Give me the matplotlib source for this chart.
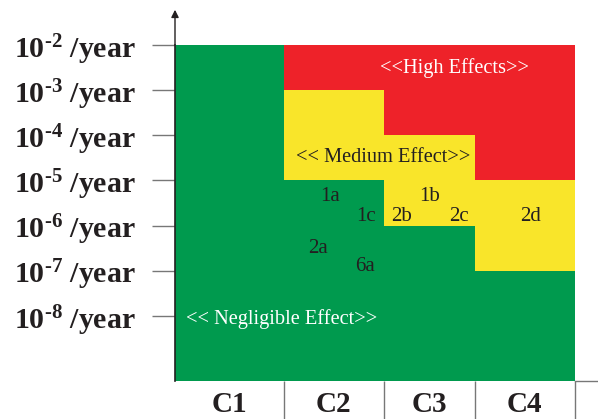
import numpy as np
import matplotlib.pyplot as plt
from matplotlib.lines import Line2D

plt.rcParams['mathtext.fontset'] = 'custom'
plt.rcParams['mathtext.rm'] = 'Liberation Serif'
plt.rcParams['mathtext.bf'] = 'Liberation Serif:bold'

# categories and frequency decades
categories = ['C1', 'C2', 'C3', 'C4']
exponents = [-2, -3, -4, -5, -6, -7, -8]
col_edges = [0, 1.09, 2.08, 2.99, 3.99]

# top of each zone (exponent) per column
green_top = [-2, -5, -6, -7]
yellow_top = [None, -3, -4, -5]
red_top = [None, -2, -2, -2]

# scenario labels: (name, column position, exponent position)
scen_names = ['1a', '1c', '2b', '1b', '2c', '2d', '2a', '6a']
scen_x = [1.55, 1.91, 2.26, 2.54, 2.83, 3.55, 1.43, 1.90]
scen_y = [-5.35, -5.8, -5.8, -5.35, -5.8, -5.8, -6.5, -6.9]

GREEN = '#009a4e'
YELLOW = '#f9e52a'
RED = '#ee2229'
DARK = '#231f20'

ymin, ymax = -9.44, -2

fig = plt.figure(figsize=(5.98, 4.19), dpi=100)
ax = fig.add_axes([175 / 598, 38 / 419, 400 / 598, 336 / 419])

for i in range(4):
    x0, w = col_edges[i], col_edges[i + 1] - col_edges[i]
    ax.bar(x0, green_top[i] - ymin, bottom=ymin, width=w, align='edge',
           color=GREEN, linewidth=0)
    if yellow_top[i] is not None:
        ax.bar(x0, yellow_top[i] - green_top[i], bottom=green_top[i], width=w,
               align='edge', color=YELLOW, linewidth=0)
        ax.bar(x0, red_top[i] - yellow_top[i], bottom=yellow_top[i], width=w,
               align='edge', color=RED, linewidth=0)

ax.set_xlim(col_edges[0], col_edges[-1])
ax.set_ylim(ymin, ymax)

for s in ['top', 'right', 'bottom']:
    ax.spines[s].set_visible(False)
ax.spines['left'].set_color(DARK)
ax.spines['left'].set_linewidth(1.2)

# y ticks
ax.set_yticks(exponents)
ax.set_yticklabels([r'$\mathbf{10^{\text{-}%d}}$ /year' % -e for e in exponents],
                   fontfamily='Liberation Serif', fontweight='bold', fontsize=21.5,
                   color=DARK)
ax.tick_params(axis='y', length=16.5, width=1.0, color='#777777', pad=12)

# x ticks: boundaries as long ticks, categories as labels
ax.set_xticks(col_edges[1:])
ax.set_xticklabels([])
ax.tick_params(axis='x', which='major', length=28, width=1.0, color='#777777')
centers = [(col_edges[i] + col_edges[i + 1]) / 2 for i in range(4)]
ax.set_xticks(centers, minor=True)
ax.set_xticklabels(categories, minor=True, fontfamily='Liberation Serif',
                   fontweight='bold', fontsize=21, color=DARK)
ax.tick_params(axis='x', which='minor', length=0, pad=7)

# arrow on y axis
ax.annotate('', xy=(0, -1.22), xytext=(0, ymax), annotation_clip=False,
            arrowprops=dict(arrowstyle='-|>', color=DARK, lw=1.0,
                            mutation_scale=11, shrinkA=0, shrinkB=0))

# extension of base line to the right
fig.add_artist(Line2D([575 / 598, 1.0], [38.5 / 419, 38.5 / 419],
                      color='#777777', lw=1.0))

txt = dict(fontfamily='Liberation Serif', ha='center', va='center')
ax.text(2.79, -2.5, '<<High Effects>>', color='white', fontsize=14.7, **txt)
ax.text(2.08, -4.5, '<< Medium Effect>>', color=DARK, fontsize=14.7, **txt)
ax.text(1.06, -8.07, '<< Negligible Effect>>', color='white', fontsize=14.7, **txt)

for name, x, y in zip(scen_names, scen_x, scen_y):
    ax.text(x, y, name, color=DARK, fontsize=15, **txt)

fig.savefig('out.png', dpi=100)
